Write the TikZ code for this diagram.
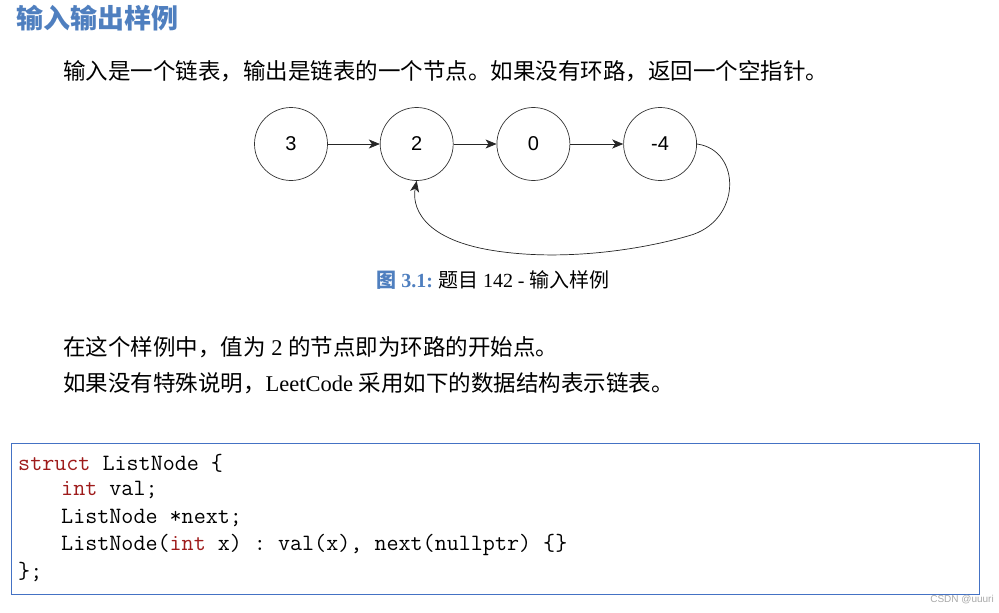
\documentclass[tikz,border=0pt]{standalone}
\usepackage{fontspec}
\setmainfont{Liberation Serif}
\newfontfamily\cjk{Noto Sans CJK SC}
\newfontfamily\numfont{Liberation Sans}
\usetikzlibrary{arrows.meta, positioning}
\definecolor{title-blue}{HTML}{4F7FBF}
\definecolor{code-frame}{HTML}{4472C4}
\definecolor{kw-red}{HTML}{9E1B1B}
\definecolor{mark-gray}{HTML}{A8A8A8}
\frenchspacing

\begin{document}
\begin{tikzpicture}[
    x=1pt, y=-1pt,
    every node/.style={inner sep=0pt},
    txt/.style={anchor=west, font=\fontsize{22.5}{27}\selectfont},
    item/.style={draw=black!80, circle, minimum size=73pt, line width=0.7pt, font=\numfont\fontsize{20}{24}\selectfont},
    link/.style={-{Stealth[length=11pt,width=9pt,inset=3pt]}, black!85, line width=0.7pt},
    codeline/.style={anchor=west, font=\ttfamily\fontsize{23.4}{28}\selectfont}
]
    \useasboundingbox (0,0) rectangle (999,613);

    \node[anchor=west, font=\cjk\bfseries\fontsize{27}{32}\selectfont, text=title-blue] (title) at (16,18) {输入输出样例};
    \node[txt] (intro) at (63,71) {\cjk 输入是一个链表，输出是链表的一个节点。如果没有环路，返回一个空指针。};

    \node[item] (n1) at (291,144) {3};
    \node[item, right=52pt of n1] (n2) {2};
    \node[item, right=43pt of n2] (n3) {0};
    \node[item, right=53pt of n3] (n4) {-4};

    \draw[link] (n1) -- (n2);
    \draw[link] (n2) -- (n3);
    \draw[link] (n3) -- (n4);
    \draw[link] (n4.east) .. controls (742,150) and (742,222) .. (688,236)
        .. controls (640,250) and (560,262) .. (490,250)
        .. controls (420,238) and (412,205) .. (n2.south);

    \node[font=\fontsize{20}{24}\selectfont] (caption) at (493,280)
        {{\bfseries\color{title-blue}{\cjk 图} 3.1:} {\cjk 题目} 142 - {\cjk 输入样例}};

    \node[txt] (note1) at (63,347) {{\cjk 在这个样例中，值为} 2 {\cjk 的节点即为环路的开始点。}};
    \node[txt] (note2) at (63,383) {{\cjk 如果没有特殊说明，}LeetCode {\cjk 采用如下的数据结构表示链表。}};

    % code block
    \draw[code-frame, line width=0.8pt] (11,443) rectangle (979,594);
    \node[codeline] (c1) at (18,463) {\textcolor{kw-red}{struct} ListNode \{};
    \node[codeline] (c2) at (61,490) {\textcolor{kw-red}{int} val;};
    \node[codeline] (c3) at (61,518) {ListNode *next;};
    \node[codeline] (c4) at (61,545) {ListNode(\textcolor{kw-red}{int} x) : val(x), next(nullptr) \{\}};
    \node[codeline] (c5) at (18,572) {\};};

    \node[anchor=east, font=\numfont\fontsize{10}{12}\selectfont, text=mark-gray] (mark) at (994,600) {CSDN @uuuri};
\end{tikzpicture}
\end{document}
